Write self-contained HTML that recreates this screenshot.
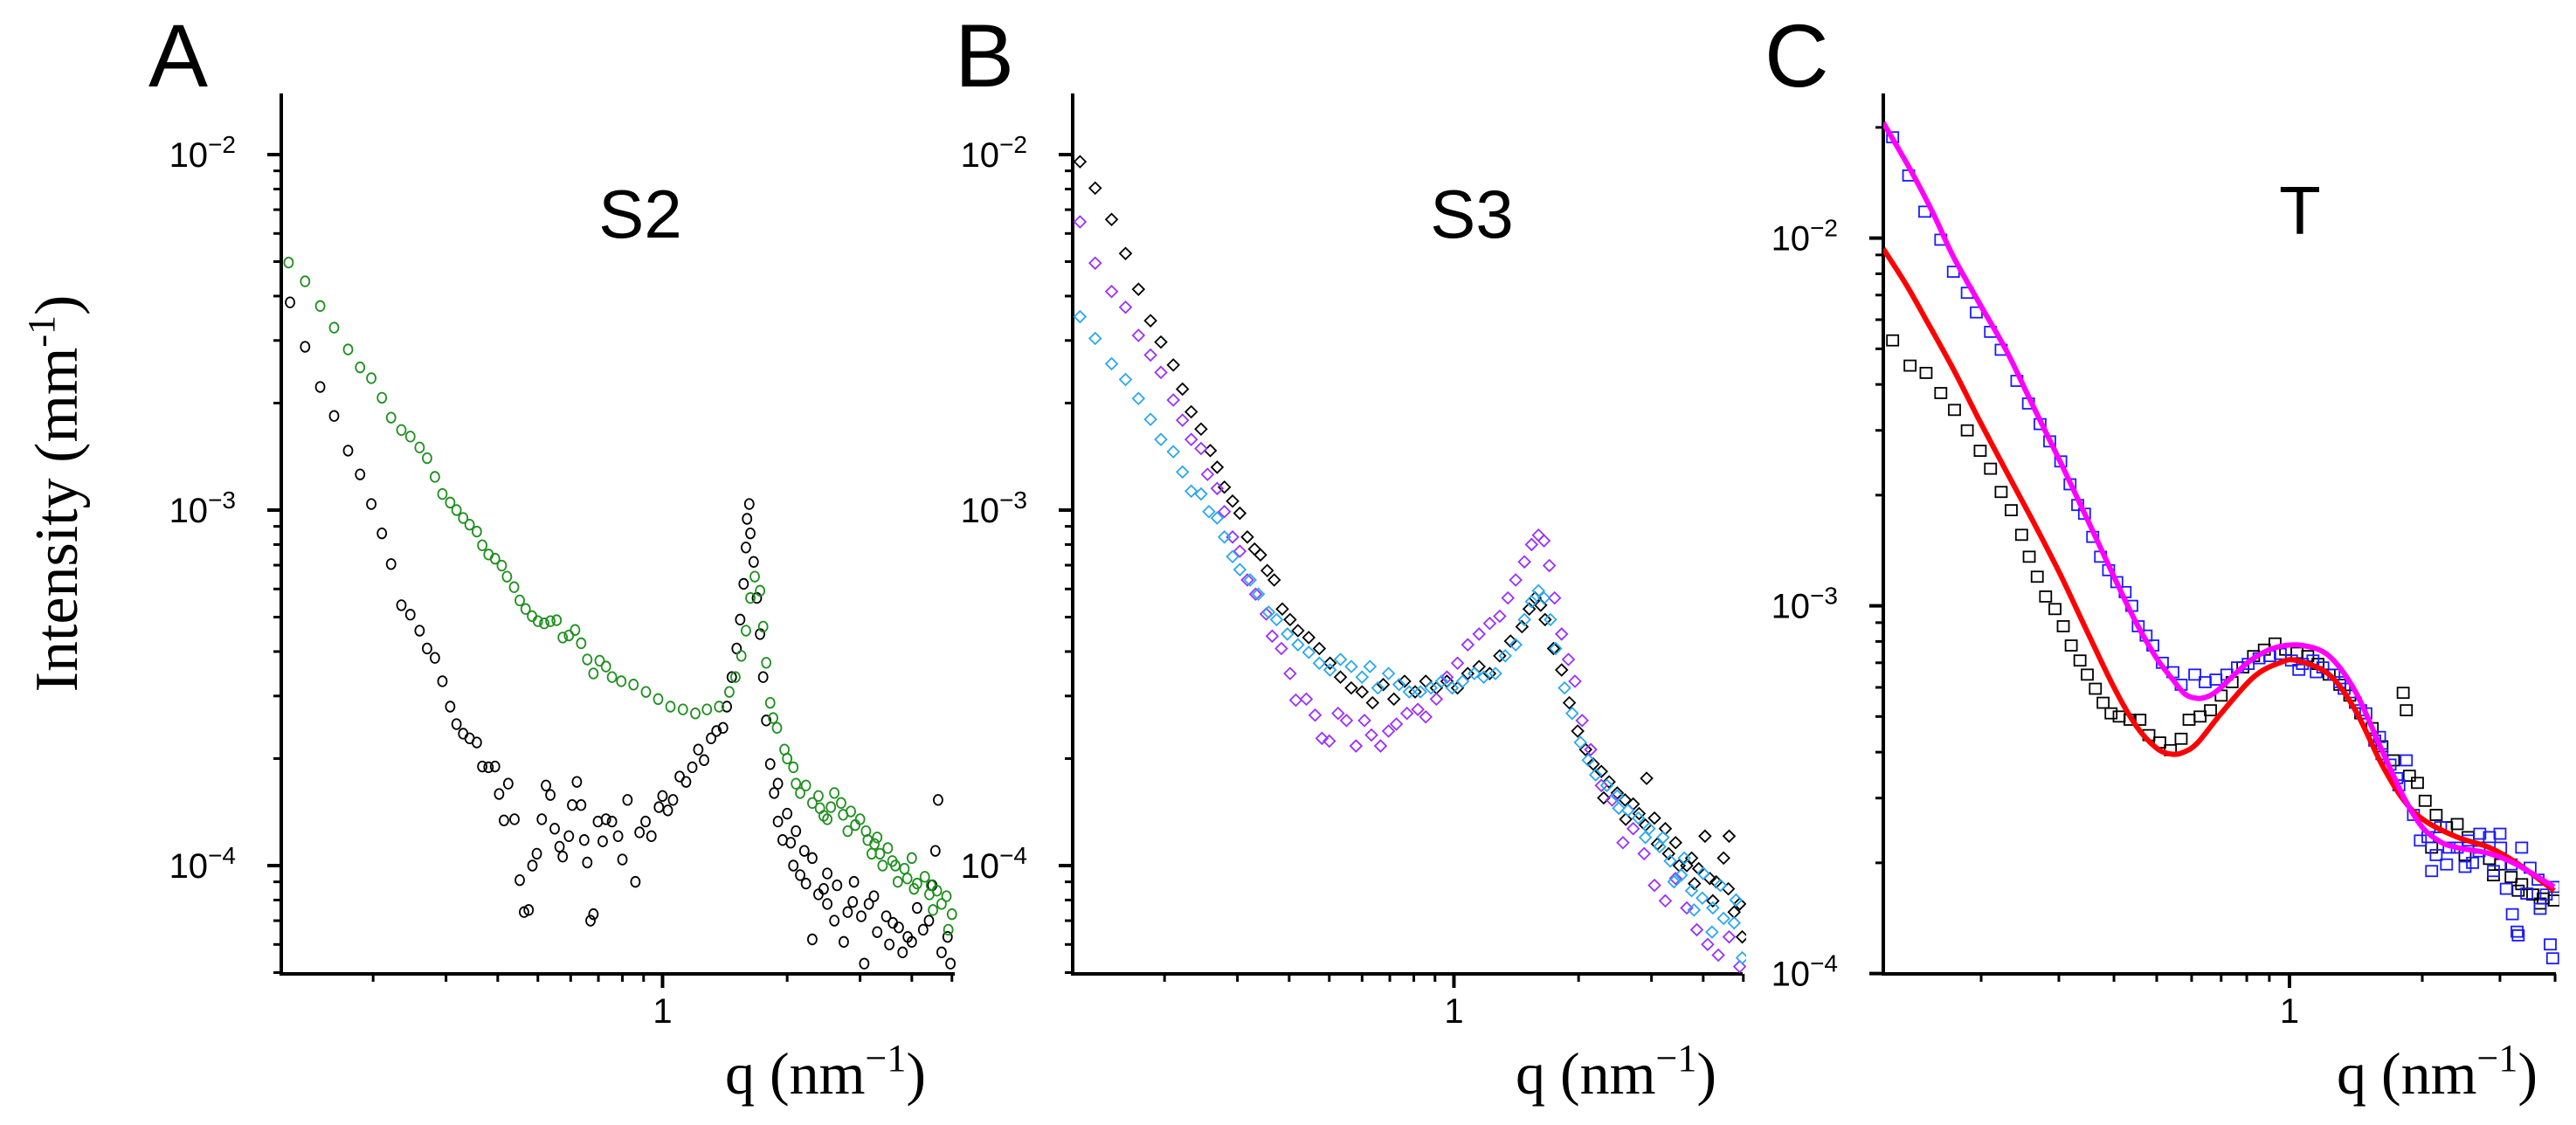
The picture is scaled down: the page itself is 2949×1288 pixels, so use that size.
<!DOCTYPE html>
<html><head><meta charset="utf-8"><style>
html,body{margin:0;padding:0;background:#fff;}
svg{display:block;}
text{font-family:"Liberation Sans",sans-serif;}
.serif{font-family:"Liberation Serif",serif;}
</style></head>
<body>
<svg id="fig" width="2949" height="1288" viewBox="0 0 2949 1288" xmlns="http://www.w3.org/2000/svg">
<defs>
<clipPath id="clipA"><rect x="322" y="100" width="775" height="1015"/></clipPath>
<clipPath id="clipB"><rect x="1228" y="100" width="771" height="1015"/></clipPath>
<clipPath id="clipC"><rect x="2156" y="100" width="774" height="1015"/></clipPath>
</defs>
<text x="170" y="99" font-size="102">A</text>
<text x="1093" y="99" font-size="102">B</text>
<text x="2020" y="99" font-size="102">C</text>
<text x="733" y="272" font-size="78" text-anchor="middle">S2</text>
<text x="1685" y="272" font-size="78" text-anchor="middle">S3</text>
<text x="2633" y="268" font-size="78" text-anchor="middle">T</text>
<text class="serif" font-size="70" transform="translate(88,565) rotate(-90)" text-anchor="middle">Intensity (mm<tspan dy="-26" font-size="44">-1</tspan><tspan dy="26">)</tspan></text>
<text class="serif" font-size="68" x="945" y="1252" text-anchor="middle">q (nm<tspan dy="-26" font-size="44">−1</tspan><tspan dy="26">)</tspan></text>
<text class="serif" font-size="68" x="1850" y="1252" text-anchor="middle">q (nm<tspan dy="-26" font-size="44">−1</tspan><tspan dy="26">)</tspan></text>
<text class="serif" font-size="68" x="2790" y="1252" text-anchor="middle">q (nm<tspan dy="-26" font-size="44">−1</tspan><tspan dy="26">)</tspan></text>
<g id="layer"></g>
</svg>
<script>
// ---- Panel A (S2) data ----
const a_green_q=[0.125,0.137,0.149,0.161,0.174,0.186,0.198,0.210,0.221,0.234,0.246,0.259,0.270,0.282,0.294,0.307,0.318,0.330,0.342,0.356,0.367,0.380,0.394,0.409,0.421,0.438,0.452,0.467,0.484,0.500,0.518,0.536,0.555,0.574,0.594,0.615,0.636,0.658,0.681,0.705,0.730,0.755,0.795,0.851,0.912,0.976,1.045,1.12,1.20,1.28,1.37,1.45,1.50,1.55,1.59,1.63,1.67,1.72,1.75,1.78,1.82,1.89,1.97,2.07,2.22,2.38,2.55,2.73,2.92,3.13,3.35,3.59,3.84,4.12,4.41,4.72,5.0,2.1,2.3,2.6,2.8,3.0,3.2,3.5,3.7,4.0,4.3,4.6,4.9,1.85,2.0,2.4,2.7,3.1,3.4,3.9,4.5,2.5,3.3,2.15,2.45,2.85,3.25,3.65,4.05,4.45,4.85];
const a_green_I=[4.97e-3,4.4e-3,3.75e-3,3.26e-3,2.83e-3,2.52e-3,2.35e-3,2.07e-3,1.82e-3,1.68e-3,1.61e-3,1.50e-3,1.40e-3,1.24e-3,1.11e-3,1.05e-3,1.0e-3,9.5e-4,9.1e-4,8.7e-4,7.96e-4,7.5e-4,7.3e-4,6.98e-4,6.5e-4,6.07e-4,5.57e-4,5.27e-4,5.03e-4,4.87e-4,4.8e-4,4.87e-4,4.9e-4,4.38e-4,4.44e-4,4.6e-4,4.22e-4,3.8e-4,3.47e-4,3.77e-4,3.63e-4,3.39e-4,3.3e-4,3.23e-4,3.08e-4,2.94e-4,2.8e-4,2.75e-4,2.68e-4,2.75e-4,2.8e-4,3.08e-4,3.39e-4,3.89e-4,4.58e-4,5.66e-4,6.5e-4,5.93e-4,4.7e-4,3.72e-4,2.87e-4,2.44e-4,2.12e-4,1.89e-4,1.68e-4,1.57e-4,1.46e-4,1.39e-4,1.3e-4,1.18e-4,1.08e-4,1.03e-4,9.8e-5,8.9e-5,8.3e-5,7.8e-5,7.3e-5,1.7e-4,1.5e-4,1.6e-4,1.25e-4,1.35e-4,1.08e-4,1.12e-4,9.0e-5,1.05e-4,9.3e-5,8.5e-5,6.6e-5,2.6e-4,2.0e-4,1.45e-4,1.5e-4,1.25e-4,1.0e-4,9.2e-5,7.5e-5,1.35e-4,1.2e-4,1.6e-4,1.38e-4,1.42e-4,1.15e-4,1.0e-4,8.6e-5,8.8e-5,8.2e-5];
const a_black_q=[0.126,0.137,0.149,0.161,0.174,0.186,0.198,0.210,0.221,0.234,0.246,0.259,0.270,0.282,0.294,0.307,0.318,0.330,0.342,0.356,0.367,0.380,0.394,0.403,0.424,0.414,0.439,0.452,0.463,0.475,0.485,0.497,0.511,0.523,0.536,0.549,0.564,0.574,0.594,0.605,0.621,0.636,0.647,0.658,0.670,0.681,0.698,0.717,0.730,0.755,0.781,0.800,0.823,0.86,0.88,0.91,0.94,0.98,1.0,1.03,1.06,1.10,1.14,1.18,1.22,1.26,1.31,1.35,1.40,1.43,1.47,1.51,1.54,1.57,1.59,1.60,1.62,1.63,1.66,1.69,1.72,1.75,1.78,1.82,1.86,1.90,1.95,2.04,2.07,2.15,2.22,2.30,2.38,2.50,2.64,2.74,2.88,3.02,3.07,3.24,3.47,3.53,3.72,3.91,4.12,4.26,4.48,4.56,4.63,4.72,4.88,4.96,1.9,2.1,2.3,2.5,2.6,2.9,3.3,3.8,2.0,2.2,2.45,2.8,3.15,3.6,4.0,4.4];
const a_black_I=[3.84e-3,2.88e-3,2.22e-3,1.84e-3,1.47e-3,1.26e-3,1.04e-3,8.6e-4,7.05e-4,5.4e-4,5.08e-4,4.58e-4,4.08e-4,3.84e-4,3.3e-4,2.8e-4,2.5e-4,2.35e-4,2.28e-4,2.22e-4,1.9e-4,1.89e-4,1.9e-4,1.59e-4,1.7e-4,1.34e-4,1.35e-4,9.1e-5,7.4e-5,7.5e-5,1.0e-4,1.08e-4,1.35e-4,1.68e-4,1.58e-4,1.27e-4,1.13e-4,1.06e-4,1.21e-4,1.48e-4,1.72e-4,1.48e-4,1.18e-4,1.02e-4,7.0e-5,7.3e-5,1.33e-4,1.17e-4,1.35e-4,1.33e-4,1.21e-4,1.04e-4,1.53e-4,9.0e-5,1.24e-4,1.33e-4,1.21e-4,1.46e-4,1.57e-4,1.43e-4,1.53e-4,1.78e-4,1.72e-4,1.89e-4,2.12e-4,1.98e-4,2.28e-4,2.39e-4,2.44e-4,2.8e-4,3.39e-4,4.08e-4,4.92e-4,6.2e-4,7.85e-4,9.45e-4,1.04e-3,8.6e-4,7.15e-4,5.66e-4,4.48e-4,3.39e-4,2.56e-4,1.93e-4,1.6e-4,1.33e-4,1.18e-4,1.16e-4,1.0e-4,9.4e-5,8.9e-5,6.2e-5,8.3e-5,7.8e-5,8.8e-5,6.1e-5,7.9e-5,7.2e-5,5.3e-5,8.2e-5,7.2e-5,6.0e-5,6.7e-5,6.3e-5,7.6e-5,6.6e-5,8.8e-5,1.1e-4,1.53e-4,5.7e-5,6.3e-5,5.3e-5,1.7e-4,1.25e-4,1.05e-4,9.5e-5,7.0e-5,9.0e-5,6.5e-5,5.7e-5,1.4e-4,1.1e-4,8.6e-5,7.4e-5,7.8e-5,6.9e-5,6.1e-5,7.0e-5];
// ---- Panel B (S3) data ----
const b_black_q=[0.125,0.136,0.149,0.161,0.173,0.185,0.196,0.210,0.221,0.232,0.245,0.258,0.268,0.279,0.292,0.304,0.317,0.330,0.341,0.354,0.368,0.385,0.402,0.420,0.446,0.473,0.502,0.532,0.565,0.60,0.636,0.675,0.716,0.76,0.806,0.855,0.907,0.962,1.02,1.08,1.15,1.22,1.29,1.37,1.46,1.52,1.57,1.62,1.66,1.74,1.82,1.90,1.99,2.08,2.17,2.27,2.37,2.48,2.59,2.71,2.92,3.05,3.24,3.43,3.65,3.81,4.04,4.22,4.48,4.62,4.75,4.97,2.6,2.9,3.1,3.5,3.9,4.3,4.6,4.9,2.3,3.3,2.8,3.75,4.15];
const b_black_I=[9.55e-3,8.05e-3,6.57e-3,5.27e-3,4.18e-3,3.41e-3,2.97e-3,2.56e-3,2.19e-3,1.89e-3,1.69e-3,1.47e-3,1.32e-3,1.16e-3,1.06e-3,9.8e-4,8.4e-4,7.77e-4,7.48e-4,6.76e-4,6.36e-4,5.27e-4,4.92e-4,4.58e-4,4.38e-4,4.08e-4,3.71e-4,3.39e-4,3.16e-4,3.08e-4,2.87e-4,3.23e-4,2.94e-4,3.3e-4,3.08e-4,3.3e-4,3.16e-4,3.3e-4,3.16e-4,3.47e-4,3.63e-4,3.47e-4,3.89e-4,4.28e-4,4.7e-4,5.27e-4,5.66e-4,5.4e-4,4.92e-4,4.08e-4,3.55e-4,2.87e-4,2.39e-4,2.12e-4,1.93e-4,1.84e-4,1.72e-4,1.6e-4,1.53e-4,1.49e-4,1.76e-4,1.36e-4,1.27e-4,1.16e-4,1.0e-4,8.9e-5,1.21e-4,7.96e-5,1.05e-4,1.21e-4,7.4e-5,6.3e-5,1.35e-4,1.3e-4,1.15e-4,1.0e-4,9.8e-5,9.0e-5,8.6e-5,7.8e-5,1.55e-4,1.08e-4,1.4e-4,1.05e-4,9.2e-5];
const b_purple_q=[0.125,0.136,0.149,0.161,0.173,0.185,0.196,0.210,0.221,0.232,0.245,0.254,0.268,0.279,0.292,0.304,0.317,0.332,0.352,0.364,0.383,0.402,0.415,0.44,0.462,0.48,0.50,0.525,0.55,0.58,0.608,0.632,0.665,0.695,0.726,0.77,0.818,0.855,0.907,0.962,1.02,1.08,1.15,1.22,1.29,1.35,1.41,1.48,1.54,1.60,1.65,1.70,1.75,1.82,1.89,1.96,2.04,2.14,2.27,2.41,2.56,2.71,2.88,3.05,3.24,3.43,3.65,3.86,4.1,4.35,4.62,4.9];
const b_purple_I=[6.47e-3,4.95e-3,4.12e-3,3.72e-3,3.1e-3,2.73e-3,2.44e-3,2.04e-3,1.79e-3,1.58e-3,1.49e-3,1.26e-3,1.15e-3,9.9e-4,8.4e-4,7.66e-4,6.36e-4,5.8e-4,5.1e-4,4.42e-4,4.08e-4,3.47e-4,2.92e-4,2.94e-4,2.65e-4,2.28e-4,2.24e-4,2.68e-4,2.56e-4,2.17e-4,2.56e-4,2.33e-4,2.17e-4,2.39e-4,2.5e-4,2.68e-4,2.75e-4,2.62e-4,2.94e-4,3.39e-4,3.71e-4,4.18e-4,4.48e-4,4.8e-4,5.03e-4,5.66e-4,6.36e-4,7.15e-4,8.0e-4,8.5e-4,8.2e-4,6.98e-4,5.66e-4,4.48e-4,3.8e-4,3.3e-4,2.56e-4,2.12e-4,1.68e-4,1.53e-4,1.16e-4,1.27e-4,1.08e-4,8.8e-5,7.96e-5,9.2e-5,7.6e-5,6.6e-5,6.0e-5,5.6e-5,6.3e-5,5.2e-5];
const b_cyan_q=[0.125,0.136,0.149,0.161,0.173,0.185,0.196,0.210,0.221,0.232,0.245,0.256,0.268,0.279,0.292,0.304,0.322,0.337,0.357,0.373,0.396,0.420,0.446,0.473,0.502,0.532,0.565,0.60,0.627,0.655,0.695,0.737,0.78,0.83,0.88,0.934,0.99,1.05,1.12,1.18,1.26,1.33,1.41,1.48,1.54,1.60,1.65,1.71,1.76,1.85,1.93,2.02,2.11,2.2,2.34,2.48,2.63,2.79,2.96,3.14,3.33,3.54,3.75,3.98,4.22,4.48,4.75,4.97,2.5,2.9,3.2,3.6,4.0,4.4,4.8,3.4,3.8,4.2];
const b_cyan_I=[3.5e-3,3.04e-3,2.58e-3,2.33e-3,2.06e-3,1.8e-3,1.58e-3,1.46e-3,1.28e-3,1.13e-3,1.11e-3,9.9e-4,9.5e-4,8.4e-4,7.4e-4,6.8e-4,6.36e-4,5.8e-4,5.16e-4,4.92e-4,4.48e-4,4.18e-4,3.98e-4,3.71e-4,3.55e-4,3.8e-4,3.63e-4,3.39e-4,3.63e-4,3.16e-4,3.47e-4,3.23e-4,3.08e-4,3.08e-4,3.16e-4,3.3e-4,3.16e-4,3.3e-4,3.47e-4,3.39e-4,3.47e-4,3.89e-4,4.18e-4,4.92e-4,5.53e-4,5.93e-4,5.66e-4,4.92e-4,4.08e-4,3.16e-4,2.68e-4,2.22e-4,1.98e-4,1.8e-4,1.68e-4,1.57e-4,1.43e-4,1.36e-4,1.27e-4,1.13e-4,1.03e-4,9.4e-5,8.5e-5,8.1e-5,7.6e-5,7.1e-5,6.9e-5,5.5e-5,1.45e-4,1.2e-4,1.2e-4,1.05e-4,9.5e-5,8.8e-5,8.0e-5,9.0e-5,7.5e-5,6.5e-5];
// ---- Panel C (T) data ----
const c_blue_q=[0.126,0.137,0.149,0.162,0.173,0.186,0.195,0.21,0.222,0.241,0.256,0.272,0.286,0.303,0.318,0.331,0.343,0.358,0.373,0.389,0.406,0.424,0.439,0.454,0.473,0.49,0.515,0.544,0.568,0.61,0.644,0.681,0.721,0.762,0.806,0.853,0.902,0.953,1.01,1.07,1.13,1.19,1.26,1.33,1.41,1.49,1.56,1.62,1.69,1.77,1.84,1.91,1.98,2.06,2.15,2.27,2.4,2.54,2.69,2.84,3.01,3.18,3.36,3.51,3.66,3.82,3.98,2.1,2.3,2.5,2.7,2.9,3.1,3.2,3.3,3.28,3.45,3.7,3.9,3.95,2.2,2.6,3.0,1.05,1.15,1.3,1.45,1.6,1.75];
const c_blue_I=[1.88e-2,1.48e-2,1.18e-2,9.9e-3,8.1e-3,7.1e-3,6.28e-3,5.56e-3,4.97e-3,4.09e-3,3.55e-3,3.12e-3,2.8e-3,2.47e-3,2.14e-3,1.88e-3,1.78e-3,1.54e-3,1.36e-3,1.25e-3,1.16e-3,1.09e-3,1.0e-3,8.8e-4,8.3e-4,7.8e-4,7.0e-4,6.6e-4,6.1e-4,6.5e-4,6.2e-4,6.3e-4,6.5e-4,6.8e-4,6.95e-4,7.2e-4,7.3e-4,7.4e-4,7.1e-4,6.95e-4,7.1e-4,6.8e-4,6.5e-4,5.95e-4,5.45e-4,5.1e-4,4.3e-4,3.95e-4,3.7e-4,3.25e-4,3.8e-4,2.7e-4,2.3e-4,2.35e-4,2.1e-4,1.98e-4,2.2e-4,2.3e-4,2.15e-4,2.35e-4,2.2e-4,1.98e-4,2.2e-4,1.94e-4,1.8e-4,1.64e-4,1.72e-4,1.9e-4,2.2e-4,1.95e-4,2.4e-4,1.9e-4,1.7e-4,1.45e-4,1.27e-4,1.3e-4,1.65e-4,1.5e-4,1.2e-4,1.1e-4,2.5e-4,2.0e-4,2.4e-4,6.7e-4,6.6e-4,6.2e-4,5.2e-4,4.4e-4,3.4e-4];
const c_black_q=[0.126,0.138,0.15,0.162,0.174,0.186,0.199,0.21,0.222,0.234,0.247,0.257,0.268,0.28,0.294,0.307,0.32,0.335,0.348,0.363,0.378,0.394,0.411,0.435,0.458,0.48,0.508,0.537,0.568,0.592,0.627,0.662,0.70,0.741,0.784,0.829,0.877,0.927,0.98,1.04,1.10,1.16,1.23,1.30,1.37,1.45,1.54,1.62,1.72,1.81,1.84,1.87,1.95,2.03,2.15,2.27,2.4,2.54,2.69,2.84,3.01,3.18,3.36,3.56,3.76,3.98,2.1,2.5,2.9,3.3,3.7];
const c_black_I=[5.27e-3,4.5e-3,4.3e-3,3.79e-3,3.41e-3,3.0e-3,2.64e-3,2.36e-3,2.04e-3,1.82e-3,1.56e-3,1.36e-3,1.2e-3,1.06e-3,9.8e-4,8.8e-4,7.8e-4,7.1e-4,6.5e-4,5.95e-4,5.45e-4,5.1e-4,5.0e-4,4.9e-4,4.9e-4,4.45e-4,4.25e-4,4.05e-4,4.35e-4,4.9e-4,5.0e-4,5.2e-4,5.7e-4,6.2e-4,6.8e-4,7.3e-4,7.6e-4,7.9e-4,7.6e-4,7.45e-4,7.3e-4,6.95e-4,6.5e-4,6.1e-4,5.7e-4,5.1e-4,4.65e-4,4.15e-4,3.8e-4,5.8e-4,5.2e-4,3.45e-4,3.3e-4,2.95e-4,2.7e-4,2.5e-4,2.55e-4,2.35e-4,2.2e-4,2.05e-4,1.98e-4,1.83e-4,1.75e-4,1.64e-4,1.6e-4,1.58e-4,2.2e-4,2.1e-4,1.85e-4,1.68e-4,1.55e-4];
const c_fitMagenta_q=[0.12,0.138,0.155,0.173,0.198,0.229,0.262,0.302,0.348,0.40,0.447,0.50,0.544,0.58,0.62,0.66,0.70,0.76,0.829,0.93,1.07,1.23,1.41,1.62,1.82,2.0,2.2,2.4,2.84,3.27,3.98];
const c_fitMagenta_I=[2.06e-2,1.54e-2,1.18e-2,8.9e-3,6.66e-3,4.9e-3,3.5e-3,2.47e-3,1.72e-3,1.2e-3,9.1e-4,7.2e-4,6.3e-4,5.75e-4,5.6e-4,5.7e-4,6.0e-4,6.6e-4,7.2e-4,7.7e-4,7.8e-4,7.3e-4,5.85e-4,4.05e-4,3.0e-4,2.5e-4,2.28e-4,2.2e-4,2.12e-4,1.98e-4,1.72e-4];
const c_fitRed_q=[0.12,0.135,0.15,0.173,0.198,0.229,0.262,0.302,0.348,0.40,0.45,0.50,0.54,0.576,0.62,0.70,0.829,0.95,1.04,1.23,1.41,1.62,1.82,2.03,2.4,2.84,3.27,3.98];
const c_fitRed_I=[9.35e-3,7.5e-3,6.0e-3,4.4e-3,3.2e-3,2.3e-3,1.7e-3,1.22e-3,8.5e-4,6.0e-4,4.7e-4,4.1e-4,3.95e-4,4.0e-4,4.25e-4,5.1e-4,6.4e-4,7.0e-4,7.1e-4,6.5e-4,5.2e-4,3.7e-4,2.95e-4,2.6e-4,2.35e-4,2.2e-4,2.0e-4,1.68e-4];
const yMajor=[1e-2,1e-3,1e-4];
const yMajorLabels=["−2","−3","−4"];
const xMinorTicks=[0.2,0.3,0.4,0.5,0.6,0.7,0.8,0.9,2,3,4,5];

const NS="http://www.w3.org/2000/svg";
const layer=document.getElementById('layer');
function mk(tag,attrs,parent){const e=document.createElementNS(NS,tag);for(const k in attrs)e.setAttribute(k,attrs[k]);(parent||layer).appendChild(e);return e;}
const L=Math.log10;
const panels={
 A:{left:322,right:1093,top:107,bottom:1115,qmin:0.12,xd:474,y4:991,yd:407,clip:'clipA'},
 B:{left:1228,right:1995,top:107,bottom:1115,qmin:0.12,xd:474,y4:991,yd:407,clip:'clipB'},
 C:{left:2156,right:2926,top:107,bottom:1115,qmin:0.12,xd:505,y4:1114.6,yd:421,clip:'clipC'}
};
function xs(p,q){return p.left+(L(q)-L(p.qmin))*p.xd;}
function ys(p,I){return p.y4-(L(I)+4)*p.yd;}
function drawAxes(key,p){
  const g=mk('g',{});
  
  
  const ya=mk('line',{x1:p.left,y1:p.top,x2:p.left,y2:p.bottom+2,stroke:'#000','stroke-width':4},g);
  
  
  const xa=mk('line',{x1:p.left-2,y1:p.bottom,x2:p.right,y2:p.bottom,stroke:'#000','stroke-width':4},g);
  
  
  for(let d=-5;d<=-1;d++){
    for(let m=1;m<10;m++){
      const v=m*Math.pow(10,d);const y=ys(p,v);
      if(y<p.top-1||y>p.bottom+1)continue;
      const major=(m===1);
      mk('line',{x1:p.left-(major?16:9),y1:y,x2:p.left,y2:y,stroke:'#000','stroke-width':major?4:3},g);
    }
  }
  yMajor.forEach((v,i)=>{
    const y=ys(p,v);if(y<p.top-1||y>p.bottom+1)return;
    const t=mk('text',{x:p.left-52,y:y+14,'font-size':40,'text-anchor':'end'},g);
    
    
    t.textContent='10';
    const s=mk('tspan',{dy:-16,'font-size':28},t);s.textContent=yMajorLabels[i];
  });
  xMinorTicks.forEach(v=>{const x=xs(p,v);if(x>p.right+1)return;
    mk('line',{x1:x,y1:p.bottom,x2:x,y2:p.bottom+9,stroke:'#000','stroke-width':3},g);});
  const x1=xs(p,1);
  mk('line',{x1:x1,y1:p.bottom,x2:x1,y2:p.bottom+16,stroke:'#000','stroke-width':4},g);
  const t=mk('text',{x:x1,y:p.bottom+56,'font-size':40,'text-anchor':'middle'},g);
  
  
  t.textContent='1';
}
function drawMarkers(p,qs,Is,shape,color,name){
  const g=mk('g',{'clip-path':'url(#'+p.clip+')',fill:'none',stroke:color,'stroke-width':1.8});
  
  
  for(let i=0;i<qs.length;i++){
    const x=xs(p,qs[i]),y=ys(p,Is[i]);let e;
    if(shape==='circle')e=mk('ellipse',{cx:x,cy:y,rx:5,ry:5.8},g);
    else if(shape==='diamond')e=mk('path',{d:`M${x},${y-6.5}L${x+6.5},${y}L${x},${y+6.5}L${x-6.5},${y}Z`},g);
    else e=mk('rect',{x:x-6.5,y:y-6,width:13,height:12},g);
    
    
  }
}
function drawLine(p,qs,Is,color,name){
  const pts=qs.map((q,i)=>[xs(p,q),ys(p,Is[i])]);
  let d='M'+pts[0][0].toFixed(1)+','+pts[0][1].toFixed(1);
  for(let i=0;i<pts.length-1;i++){
    const p0=pts[Math.max(0,i-1)],p1=pts[i],p2=pts[i+1],p3=pts[Math.min(pts.length-1,i+2)];
    const c1=[p1[0]+(p2[0]-p0[0])/6,p1[1]+(p2[1]-p0[1])/6];
    const c2=[p2[0]-(p3[0]-p1[0])/6,p2[1]-(p3[1]-p1[1])/6];
    d+='C'+c1[0].toFixed(1)+','+c1[1].toFixed(1)+' '+c2[0].toFixed(1)+','+c2[1].toFixed(1)+' '+p2[0].toFixed(1)+','+p2[1].toFixed(1);
  }
  const e=mk('path',{d:d,fill:'none',stroke:color,'stroke-width':6,'stroke-linejoin':'round','clip-path':'url(#'+p.clip+')'});
  
  
}
drawAxes('A',panels.A);drawAxes('B',panels.B);drawAxes('C',panels.C);
drawMarkers(panels.A,a_black_q,a_black_I,'circle','#000','series-a-black');
drawMarkers(panels.A,a_green_q,a_green_I,'circle','#1f8f1f','series-a-green');
drawMarkers(panels.B,b_black_q,b_black_I,'diamond','#000','series-b-black');
drawMarkers(panels.B,b_purple_q,b_purple_I,'diamond','#9b30ff','series-b-purple');
drawMarkers(panels.B,b_cyan_q,b_cyan_I,'diamond','#2aa8f0','series-b-cyan');
drawMarkers(panels.C,c_black_q,c_black_I,'square','#000','series-c-black');
drawMarkers(panels.C,c_blue_q,c_blue_I,'square','#1a1aff','series-c-blue');
drawLine(panels.C,c_fitRed_q,c_fitRed_I,'#ff0000','fit-line-red');
drawLine(panels.C,c_fitMagenta_q,c_fitMagenta_I,'#ff00ff','fit-line-magenta');
</script>
</body></html>
